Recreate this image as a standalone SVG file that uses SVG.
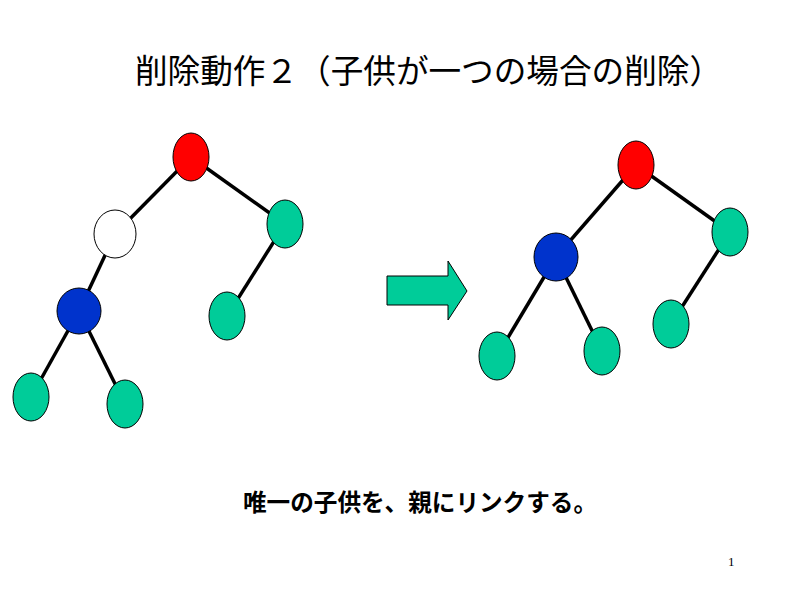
<svg xmlns="http://www.w3.org/2000/svg" width="800" height="600" viewBox="0 0 800 600">
<style>
.edge{stroke:#000;stroke-width:3.5;fill:none}
.n{stroke:#000;stroke-width:1}
.g{fill:#00CC99}
.r{fill:#FF0000}
.b{fill:#0033CC}
.w{fill:#FFFFFF}
.jp{font-family:"Noto Sans CJK JP","Noto Sans CJK SC",sans-serif;fill:#000}
</style>
<rect width="800" height="600" fill="#fff"/>
<text class="jp" x="135" y="83" font-size="33" textLength="587" lengthAdjust="spacingAndGlyphs">削除動作２（子供が一つの場合の削除）</text>
<g id="connectors">
<line class="edge" x1="191" y1="157" x2="115" y2="234"/>
<line class="edge" x1="191" y1="157" x2="285" y2="224"/>
<line class="edge" x1="115" y1="234" x2="79" y2="311"/>
<line class="edge" x1="285" y1="224" x2="227" y2="316"/>
<line class="edge" x1="79" y1="311" x2="31" y2="397"/>
<line class="edge" x1="79" y1="311" x2="125" y2="404"/>
<line class="edge" x1="636" y1="165" x2="556" y2="257"/>
<line class="edge" x1="636" y1="165" x2="730" y2="232"/>
<line class="edge" x1="730" y1="232" x2="671" y2="324"/>
<line class="edge" x1="556" y1="257" x2="497" y2="356"/>
<line class="edge" x1="556" y1="257" x2="602" y2="351"/>
</g>
<g id="L_root"><ellipse class="n r" cx="191" cy="157" rx="18" ry="24"/></g>
<g id="L_deleted"><ellipse class="n w" cx="115" cy="234" rx="21" ry="24"/></g>
<g id="L_right"><ellipse class="n g" cx="285" cy="224" rx="18" ry="24"/></g>
<g id="L_child"><ellipse class="n b" cx="79" cy="311" rx="22" ry="23"/></g>
<g id="L_rightleaf"><ellipse class="n g" cx="227" cy="316" rx="18" ry="24"/></g>
<g id="L_leaf1"><ellipse class="n g" cx="31" cy="397" rx="18" ry="24"/></g>
<g id="L_leaf2"><ellipse class="n g" cx="125" cy="404" rx="18" ry="24"/></g>
<g id="arrow"><polygon class="n g" points="387,276 448,276 448,261 467,291 448,320 448,305 387,305"/></g>
<g id="R_root"><ellipse class="n r" cx="636" cy="165" rx="18" ry="24"/></g>
<g id="R_child"><ellipse class="n b" cx="556" cy="257" rx="22" ry="24"/></g>
<g id="R_right"><ellipse class="n g" cx="730" cy="232" rx="18" ry="24"/></g>
<g id="R_rightleaf"><ellipse class="n g" cx="671" cy="324" rx="18" ry="24"/></g>
<g id="R_leaf1"><ellipse class="n g" cx="497" cy="356" rx="18" ry="24"/></g>
<g id="R_leaf2"><ellipse class="n g" cx="602" cy="351" rx="18" ry="24"/></g>
<text class="jp" x="243" y="511" font-size="24" font-weight="bold" textLength="354" lengthAdjust="spacingAndGlyphs">唯一の子供を、親にリンクする。</text>
<text x="728" y="566" font-size="13" font-family="Liberation Serif,serif">1</text>
</svg>
